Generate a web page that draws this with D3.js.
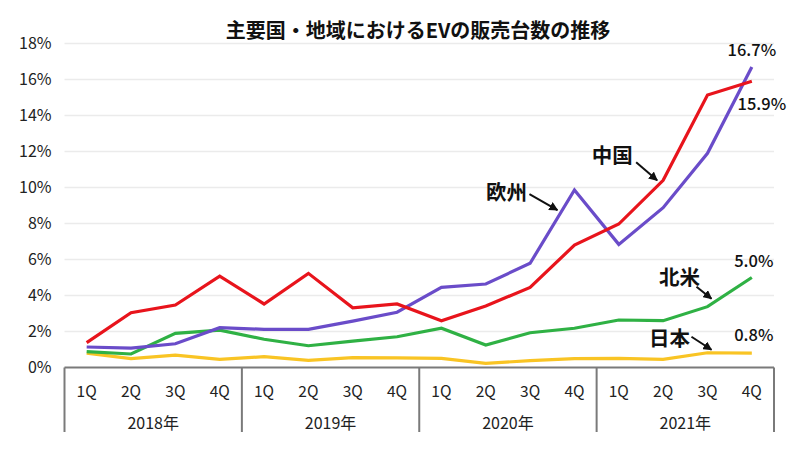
<!DOCTYPE html>
<html><head><meta charset="utf-8">
<script src="https://cdn.jsdelivr.net/npm/d3@7"></script>
<style>
html,body{margin:0;padding:0;background:#fff;}
text{font-family:"Noto Sans CJK JP","Noto Sans",sans-serif;}
</style></head>
<body><svg id="c" width="808" height="450"></svg>
<script>
const years = ["2018年","2019年","2020年","2021年"];
const quarters = ["1Q","2Q","3Q","4Q"];
const yTicks = [0,2,4,6,8,10,12,14,16,18];
const china  = [1.38,3.04,3.47,5.08, 3.53,5.23,3.32,3.53, 2.6,3.42,4.45,6.8, 7.97,10.4,15.14,15.9];
const europe = [1.14,1.08,1.32,2.21, 2.12,2.12,2.58,3.07, 4.45,4.64,5.79,9.86, 6.84,8.88,11.9,16.7];
const northAmerica = [0.88,0.75,1.9,2.08, 1.57,1.21,1.47,1.71, 2.18,1.25,1.93,2.18, 2.64,2.6,3.38,5.0];
const japan  = [0.8,0.49,0.69,0.45, 0.6,0.4,0.55,0.53, 0.51,0.23,0.38,0.49, 0.51,0.45,0.82,0.8];
const seriesNames = ["中国","欧州","北米","日本"];
const endLabels = ["15.9%","16.7%","5.0%","0.8%"];
const title = "主要国・地域におけるEVの販売台数の推移";

const colors = ["#e8141c","#6a4cc9","#2fb144","#f9c424"];
const seriesData = [china, europe, northAmerica, japan];

const svg = d3.select("#c");
const L = 64.5, R = 774, T = 43.5, B = 367.5;
const keys = [];
years.forEach(y => quarters.forEach(q => keys.push(y + q)));
const x = d3.scaleBand().domain(keys).range([L, R]).padding(0);
const xc = i => x(keys[i]) + x.bandwidth() / 2;
const y = d3.scaleLinear().domain([0, 18]).range([B, T]);

// title
svg.append("text").attr("x", 418).attr("y", 29).attr("text-anchor", "middle")
  .attr("dominant-baseline", "central").attr("font-size", 20).attr("font-weight", 700)
  .attr("fill", "#111").text(title);

// gridlines
svg.append("g").selectAll("line").data(yTicks.filter(d => d > 0)).join("line")
  .attr("x1", L).attr("x2", R).attr("y1", d => y(d)).attr("y2", d => y(d))
  .attr("stroke", "#ebebeb").attr("stroke-width", 1.5);

// y axis labels
const yAxis = d3.axisLeft(y).tickValues(yTicks).tickFormat(d => d + "%").tickSize(0).tickPadding(13);
const ya = svg.append("g").attr("transform", `translate(${L},0)`).call(yAxis);
ya.select(".domain").remove();
ya.selectAll("text").attr("font-size", 16).attr("fill", "#222")
  .style("font-family", '"Noto Sans CJK JP","Noto Sans",sans-serif');

// x axis box
const yr = d3.scaleBand().domain(years).range([L, R]);
svg.append("line").attr("x1", L).attr("x2", R).attr("y1", B).attr("y2", B)
  .attr("stroke", "#7a7a7a").attr("stroke-width", 2);
const bounds = years.map(d => yr(d)).concat([R]);
svg.append("g").selectAll("line").data(bounds).join("line")
  .attr("x1", d => d).attr("x2", d => d).attr("y1", B).attr("y2", 432)
  .attr("stroke", "#7a7a7a").attr("stroke-width", 2);
svg.append("g").selectAll("text").data(keys).join("text")
  .attr("x", (d, i) => xc(i)).attr("y", 389.5).attr("text-anchor", "middle")
  .attr("dominant-baseline", "central").attr("font-size", 15.5).attr("fill", "#222")
  .text((d, i) => quarters[i % 4]);
svg.append("g").selectAll("text").data(years).join("text")
  .attr("x", d => yr(d) + yr.bandwidth() / 2).attr("y", 421.5).attr("text-anchor", "middle")
  .attr("dominant-baseline", "central").attr("font-size", 16).attr("fill", "#222")
  .text(d => d);

// lines
const line = d3.line().x((d, i) => xc(i)).y(d => y(d));
const order = [3, 2, 1, 0];
order.forEach(k => {
  svg.append("path").datum(seriesData[k]).attr("d", line).attr("fill", "none")
    .attr("stroke", colors[k]).attr("stroke-width", 3.2).attr("stroke-linejoin", "miter");
});

// arrow marker
svg.append("defs").append("marker").attr("id", "ah").attr("viewBox", "0 0 10 10")
  .attr("refX", 9).attr("refY", 5).attr("markerWidth", 4.5).attr("markerHeight", 4.5)
  .attr("orient", "auto").append("path").attr("d", "M0,0L10,5L0,10z").attr("fill", "#111");

// annotations anchored to data points
const ann = [
  {s: 0, i: 13, lx: -51, ly: -26, ax0: -27, ay0: -18, ax1: -6, ay1: 0},
  {s: 1, i: 11, lx: -68, ly: 1, ax0: -45, ay0: 4, ax1: -17, ay1: 20},
  {s: 2, i: 14, lx: -28, ly: -31, ax0: -11, ay0: -20, ax1: 4, ay1: -8},
  {s: 3, i: 14, lx: -38, ly: -16, ax0: -16, ay0: -16, ax1: 4, ay1: -3}
];
ann.forEach(a => {
  const px = xc(a.i), py = y(seriesData[a.s][a.i]);
  svg.append("text").attr("x", px + a.lx).attr("y", py + a.ly).attr("text-anchor", "middle")
    .attr("dominant-baseline", "central").attr("font-size", 20.5).attr("font-weight", 700)
    .attr("fill", "#111").text(seriesNames[a.s]);
  svg.append("line").attr("x1", px + a.ax0).attr("y1", py + a.ay0)
    .attr("x2", px + a.ax1).attr("y2", py + a.ay1)
    .attr("stroke", "#111").attr("stroke-width", 2).attr("marker-end", "url(#ah)");
});

// end value labels
const endOff = [[10, 22], [0, -18], [2, -18], [2, -19]];
seriesData.forEach((s, k) => {
  const px = xc(s.length - 1), py = y(s[s.length - 1]);
  svg.append("text").attr("x", px + endOff[k][0]).attr("y", py + endOff[k][1])
    .attr("text-anchor", "middle").attr("dominant-baseline", "central")
    .attr("font-size", 16.5).attr("font-weight", 500).attr("fill", "#111").text(endLabels[k]);
});
</script></body></html>
